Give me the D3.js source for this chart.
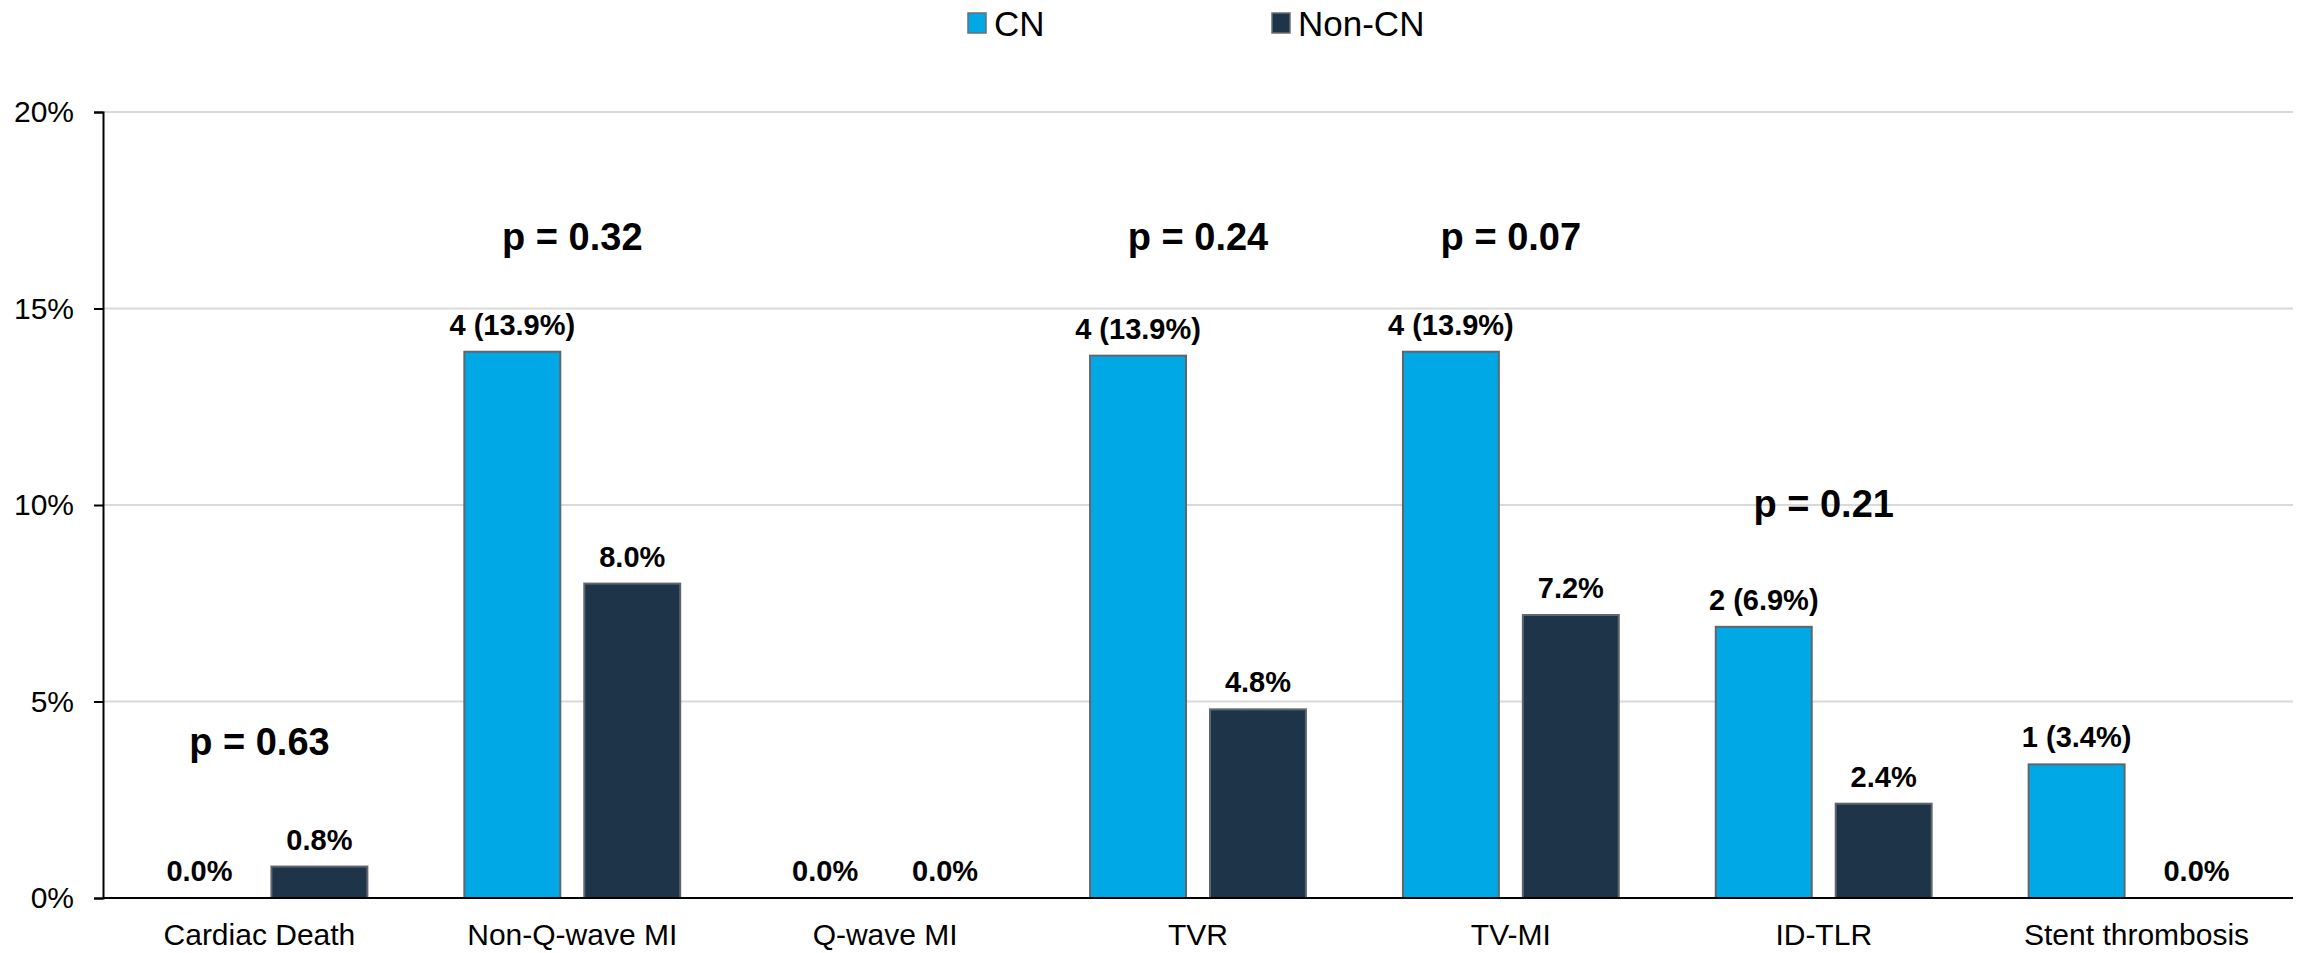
<!DOCTYPE html>
<html>
<head>
<meta charset="utf-8">
<script src="https://cdn.jsdelivr.net/npm/d3@7"></script>
<style>
  html, body { margin: 0; padding: 0; background: #fff; }
  svg { display: block; font-family: "Liberation Sans", Arial, sans-serif; }
</style>
</head>
<body>
<svg id="chart" width="2297" height="953"></svg>
<script>
// ---- data ----
const categories = ["Cardiac Death", "Non-Q-wave MI", "Q-wave MI", "TVR", "TV-MI", "ID-TLR", "Stent thrombosis"];
const seriesNames = ["CN", "Non-CN"];
const cnValues = [0.0, 13.9, 0.0, 13.8, 13.9, 6.9, 3.4];
const nonCnValues = [0.8, 8.0, 0.0, 4.8, 7.2, 2.4, 0.0];
const cnLabels = ["0.0%", "4 (13.9%)", "0.0%", "4 (13.9%)", "4 (13.9%)", "2 (6.9%)", "1 (3.4%)"];
const nonCnLabels = ["0.8%", "8.0%", "0.0%", "4.8%", "7.2%", "2.4%", "0.0%"];
const pValueLabels = ["p = 0.63", "p = 0.32", null, "p = 0.24", "p = 0.07", "p = 0.21", null];
const pValueLevels = [3.65, 16.5, null, 16.5, 16.5, 9.7, null]; // vertical placement in axis units (%)
const yTicks = [0, 5, 10, 15, 20];
const colors = ["#00a9e6", "#1e3549"];

// ---- layout ----
const svg = d3.select("#chart");
const mLeft = 103, mRight = 2293, mTop = 112, mBottom = 898;

const x0 = d3.scaleBand().domain(categories).range([mLeft, mRight]).padding(0);
const groupW = x0.bandwidth() * 0.69;
const x1 = d3.scaleBand().domain(seriesNames).range([0, groupW]).paddingInner(0.2).paddingOuter(0);
const y = d3.scaleLinear().domain([0, 20]).range([mBottom, mTop]);

// gridlines
svg.append("g")
  .selectAll("line")
  .data(yTicks.filter(d => d > 0))
  .join("line")
  .attr("x1", mLeft).attr("x2", mRight)
  .attr("y1", d => y(d)).attr("y2", d => y(d))
  .attr("stroke", "#d9d9d9").attr("stroke-width", 2);

// y axis
const yAxis = d3.axisLeft(y).tickValues(yTicks).tickFormat(d => d + "%").tickSize(9).tickPadding(20);
const gy = svg.append("g").attr("transform", `translate(${mLeft},0)`).call(yAxis);
gy.select(".domain").attr("stroke", "#000").attr("stroke-width", 2);
gy.selectAll(".tick line").attr("stroke", "#000").attr("stroke-width", 2);
gy.selectAll(".tick text").attr("font-size", 30).attr("fill", "#000")
  .attr("font-family", "Liberation Sans, Arial, sans-serif");

// bars
const rows = categories.map((c, i) => ({
  cat: c,
  vals: [
    { s: "CN", v: cnValues[i], label: cnLabels[i] },
    { s: "Non-CN", v: nonCnValues[i], label: nonCnLabels[i] }
  ]
}));

const groups = svg.append("g").selectAll("g")
  .data(rows).join("g")
  .attr("transform", d => `translate(${x0(d.cat) + (x0.bandwidth() - groupW) / 2},0)`);

groups.selectAll("rect")
  .data(d => d.vals).join("rect")
  .attr("x", d => x1(d.s))
  .attr("width", x1.bandwidth())
  .attr("y", d => y(d.v))
  .attr("height", d => y(0) - y(d.v))
  .attr("fill", (d, i) => colors[i])
  .attr("stroke", "#5f666d")
  .attr("stroke-width", 2);

groups.selectAll("text.val")
  .data(d => d.vals).join("text")
  .attr("class", "val")
  .attr("x", d => x1(d.s) + x1.bandwidth() / 2)
  .attr("y", d => y(d.v) - 17)
  .attr("text-anchor", "middle")
  .attr("font-size", 29)
  .attr("font-weight", "bold")
  .attr("fill", "#000")
  .text(d => d.label);

// x axis line
svg.append("line")
  .attr("x1", mLeft).attr("x2", mRight)
  .attr("y1", y(0)).attr("y2", y(0))
  .attr("stroke", "#000").attr("stroke-width", 2);

// category labels
svg.append("g").selectAll("text")
  .data(categories).join("text")
  .attr("x", d => x0(d) + x0.bandwidth() / 2)
  .attr("y", 945)
  .attr("text-anchor", "middle")
  .attr("font-size", 30)
  .attr("fill", "#000")
  .text(d => d);

// p-values
svg.append("g").selectAll("text")
  .data(categories.map((c, i) => ({ c, t: pValueLabels[i], v: pValueLevels[i] })).filter(d => d.t))
  .join("text")
  .attr("x", d => x0(d.c) + x0.bandwidth() / 2)
  .attr("y", d => y(d.v))
  .attr("text-anchor", "middle")
  .attr("font-size", 38)
  .attr("font-weight", "bold")
  .attr("fill", "#000")
  .text(d => d.t);

// legend
const legendItems = [
  { name: "CN", color: colors[0], x: 968 },
  { name: "Non-CN", color: colors[1], x: 1272 }
];
const lg = svg.append("g").selectAll("g").data(legendItems).join("g")
  .attr("transform", d => `translate(${d.x},0)`);
lg.append("rect")
  .attr("x", 0).attr("y", 13).attr("width", 18).attr("height", 20)
  .attr("fill", d => d.color).attr("stroke", "#6b6f73").attr("stroke-width", 1.5);
lg.append("text")
  .attr("x", 26).attr("y", 36)
  .attr("font-size", 35)
  .attr("fill", "#000")
  .text(d => d.name);
</script>
</body>
</html>
